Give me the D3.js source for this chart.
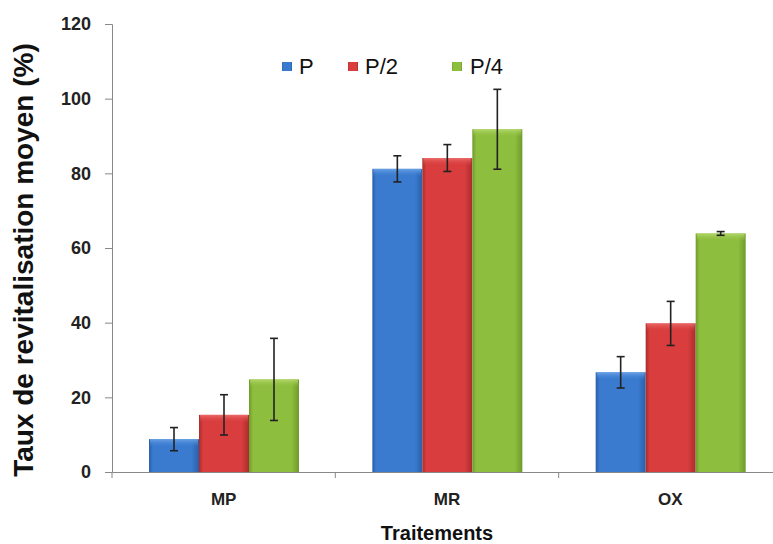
<!DOCTYPE html>
<html>
<head>
<meta charset="utf-8">
<script src="https://cdn.jsdelivr.net/npm/d3@7"></script>
<style>
  body { margin: 0; background: #fff; }
  svg { font-family: "Liberation Sans", Arial, sans-serif; }
</style>
</head>
<body>
<div id="chart"></div>
<script>
// data
var categories = ["MP", "MR", "OX"];
var series = ["P", "P/2", "P/4"];
var valP   = [8.8, 81.2, 26.7];
var valP2  = [15.3, 84.1, 39.8];
var valP4  = [24.8, 91.8, 63.9];
var errP   = [3.1, 3.5, 4.2];
var errP2  = [5.4, 3.6, 5.9];
var errP4  = [11.0, 10.7, 0.5];
var yTicks = [0, 20, 40, 60, 80, 100, 120];

var colors = {
  "P":   {base: "#3a7bd0", light: "#6aa2e6", dark: "#2a5fa8"},
  "P/2": {base: "#d93d3d", light: "#ec6a6a", dark: "#a82c2c"},
  "P/4": {base: "#8ebe3e", light: "#b2d86a", dark: "#6e9a2c"}
};

var W = 773, H = 544;
var svg = d3.select("#chart").append("svg")
    .attr("width", W)
    .attr("height", H);

// build rows
var rows = categories.map(function (c, i) {
  return {cat: c, vals: [
    {s: "P", v: valP[i], e: errP[i]},
    {s: "P/2", v: valP2[i], e: errP2[i]},
    {s: "P/4", v: valP4[i], e: errP4[i]}
  ]};
});

var x = d3.scaleBand()
    .domain(categories)
    .range([112, 782])
    .padding(0);

var xs = d3.scaleBand()
    .domain(series)
    .range([37, 187])
    .padding(0);

var y = d3.scaleLinear()
    .domain([0, 120])
    .range([472, 24]);

// gradients
var defs = svg.append("defs");
series.forEach(function (s, i) {
  var c = colors[s];
  var g = defs.append("linearGradient")
      .attr("id", "side" + i)
      .attr("x1", "0").attr("x2", "1").attr("y1", "0").attr("y2", "0");
  g.append("stop").attr("offset", "0").attr("stop-color", c.dark);
  g.append("stop").attr("offset", "0.08").attr("stop-color", c.base);
  g.append("stop").attr("offset", "0.85").attr("stop-color", c.base);
  g.append("stop").attr("offset", "1").attr("stop-color", c.dark);

  var t = defs.append("linearGradient")
      .attr("id", "top" + i)
      .attr("x1", "0").attr("x2", "0").attr("y1", "0").attr("y2", "1");
  t.append("stop").attr("offset", "0").attr("stop-color", c.light);
  t.append("stop").attr("offset", "1").attr("stop-color", c.base).attr("stop-opacity", 0);
});

// y axis
var yAxis = svg.append("g")
    .attr("transform", "translate(112,0)")
    .call(d3.axisLeft(y).tickValues(yTicks).tickSize(7).tickPadding(14));
yAxis.select(".domain").attr("stroke", "#888");
yAxis.selectAll(".tick line").attr("stroke", "#888");
yAxis.selectAll("text")
    .style("font-size", "18px")
    .style("font-weight", "bold")
    .attr("fill", "#222");

// x axis
var xAxis = svg.append("g")
    .attr("transform", "translate(0,472)")
    .call(d3.axisBottom(x).tickSize(0).tickPadding(21));
xAxis.select(".domain").attr("stroke", "#888");
xAxis.selectAll("text")
    .style("font-size", "17px")
    .style("font-weight", "bold")
    .attr("fill", "#222");
// category separator ticks
svg.append("g").selectAll("line")
    .data(categories)
    .enter().append("line")
    .attr("x1", d => x(d)).attr("x2", d => x(d))
    .attr("y1", 472).attr("y2", 478)
    .attr("stroke", "#888");

// bars
var groups = svg.append("g").selectAll("g")
    .data(rows)
    .enter().append("g")
    .attr("transform", d => "translate(" + x(d.cat) + ",0)");

groups.selectAll("rect.bar")
    .data(d => d.vals)
    .enter().append("rect")
    .attr("class", "bar")
    .attr("x", d => xs(d.s))
    .attr("y", d => y(d.v))
    .attr("width", xs.bandwidth())
    .attr("height", d => y(0) - y(d.v))
    .attr("fill", d => "url(#side" + series.indexOf(d.s) + ")");

groups.selectAll("rect.bevel")
    .data(d => d.vals)
    .enter().append("rect")
    .attr("class", "bevel")
    .attr("x", d => xs(d.s) + 1)
    .attr("y", d => y(d.v))
    .attr("width", xs.bandwidth() - 2)
    .attr("height", 8)
    .attr("fill", d => "url(#top" + series.indexOf(d.s) + ")");

// error bars
var eb = groups.selectAll("g.err")
    .data(d => d.vals)
    .enter().append("g")
    .attr("class", "err")
    .attr("stroke", "#222")
    .attr("stroke-width", 1.6);
eb.append("line")
    .attr("x1", d => xs(d.s) + xs.bandwidth() / 2)
    .attr("x2", d => xs(d.s) + xs.bandwidth() / 2)
    .attr("y1", d => y(d.v + d.e))
    .attr("y2", d => y(d.v - d.e));
eb.append("line")
    .attr("x1", d => xs(d.s) + xs.bandwidth() / 2 - 4)
    .attr("x2", d => xs(d.s) + xs.bandwidth() / 2 + 4)
    .attr("y1", d => y(d.v + d.e))
    .attr("y2", d => y(d.v + d.e));
eb.append("line")
    .attr("x1", d => xs(d.s) + xs.bandwidth() / 2 - 4)
    .attr("x2", d => xs(d.s) + xs.bandwidth() / 2 + 4)
    .attr("y1", d => y(d.v - d.e))
    .attr("y2", d => y(d.v - d.e));

// legend
var legSq = [282, 348, 452];
var legTx = [299, 365, 470];
var leg = svg.append("g").selectAll("g")
    .data(series)
    .enter().append("g");
leg.append("rect")
    .attr("x", (d, i) => legSq[i])
    .attr("y", 62)
    .attr("width", 10).attr("height", 9)
    .attr("fill", (d, i) => "url(#side" + i + ")");
leg.append("text")
    .attr("x", (d, i) => legTx[i])
    .attr("y", 74)
    .style("font-size", "22px")
    .attr("fill", "#111")
    .text(d => d);

// axis titles
svg.append("text")
    .attr("transform", "translate(33,260) rotate(-90)")
    .style("text-anchor", "middle")
    .style("font-size", "28px")
    .style("font-weight", "bold")
    .attr("fill", "#111")
    .text("Taux de revitalisation moyen (%)");

svg.append("text")
    .attr("x", 437)
    .attr("y", 540)
    .style("text-anchor", "middle")
    .style("font-size", "20px")
    .style("font-weight", "bold")
    .attr("fill", "#111")
    .text("Traitements");
</script>
</body>
</html>
